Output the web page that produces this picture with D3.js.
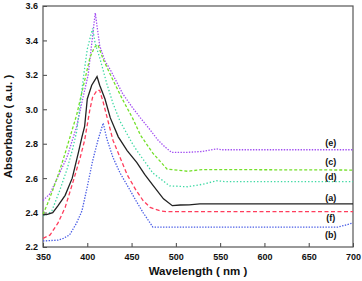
<!DOCTYPE html>
<html>
<head>
<meta charset="utf-8">
<script src="https://cdn.jsdelivr.net/npm/d3@7"></script>
<style>
	body { margin: 0; background: #fff; }
	svg text { font-family: 'Liberation Sans', Arial, sans-serif; font-weight: bold; fill: #111; }
</style>
</head>
<body>
<div id="chart"></div>
<script>
// Data ==============================================================
// [wavelength (nm), absorbance]
const curveA = [[350, 2.386], [355, 2.39], [361, 2.40], [367, 2.44], [375, 2.50], [383, 2.60], [390, 2.75], [394, 2.84], [397, 2.90], [400, 3.06], [405, 3.14], [411, 3.19], [414, 3.14], [420, 3.06], [426, 2.95], [435, 2.84], [445, 2.76], [456, 2.69], [465, 2.62], [474, 2.56], [486, 2.48], [496, 2.44], [505, 2.444], [515, 2.445], [527, 2.45], [700, 2.45]];
const curveB = [[350, 2.235], [367, 2.24], [373, 2.25], [380, 2.27], [388, 2.34], [394, 2.41], [400, 2.55], [406, 2.70], [412, 2.82], [418, 2.92], [422, 2.83], [429, 2.72], [437, 2.63], [446, 2.55], [456, 2.46], [463, 2.40], [474, 2.316], [683, 2.316], [690, 2.325], [700, 2.34]];
const curveC = [[350, 2.39], [355, 2.45], [361, 2.53], [369, 2.647], [375, 2.745], [388, 2.967], [394, 3.10], [403, 3.30], [408, 3.36], [412, 3.375], [418, 3.29], [429, 3.17], [440, 3.055], [451, 2.95], [460, 2.85], [474, 2.745], [490, 2.653], [513, 2.64], [531, 2.65], [700, 2.647]];
const curveD = [[350, 2.38], [355, 2.39], [360, 2.41], [369, 2.53], [377, 2.65], [383, 2.76], [388, 2.87], [392, 3.03], [396, 3.20], [400, 3.35], [406, 3.47], [409, 3.38], [414, 3.30], [422, 3.15], [429, 3.035], [437, 2.93], [451, 2.80], [456, 2.76], [474, 2.63], [493, 2.555], [513, 2.55], [531, 2.565], [546, 2.585], [555, 2.58], [700, 2.58]];
const curveE = [[350, 2.47], [358, 2.51], [367, 2.61], [377, 2.72], [388, 2.90], [395, 3.065], [401, 3.20], [405, 3.38], [409, 3.56], [414, 3.37], [420, 3.28], [426, 3.23], [433, 3.16], [440, 3.09], [451, 3.01], [460, 2.95], [471, 2.88], [480, 2.82], [488, 2.78], [495, 2.75], [513, 2.75], [530, 2.755], [546, 2.77], [552, 2.765], [700, 2.765]];
const curveF = [[350, 2.25], [358, 2.27], [367, 2.34], [375, 2.43], [384, 2.58], [392, 2.72], [397, 2.82], [403, 3.0], [406, 3.07], [411, 3.11], [414, 3.11], [418, 3.04], [423, 2.94], [429, 2.82], [437, 2.72], [445, 2.62], [455, 2.53], [463, 2.47], [471, 2.43], [482, 2.41], [490, 2.405], [700, 2.405]];

const xTicks = [350, 400, 450, 500, 550, 600, 650, 700];
const yTicks = [2.2, 2.4, 2.6, 2.8, 3.0, 3.2, 3.4, 3.6];

// label text and its absorbance position (placed at 675 nm)
const labelNames = ['(e)', '(c)', '(d)', '(a)', '(f)', '(b)'];
const labelValues = [2.804, 2.694, 2.606, 2.484, 2.368, 2.269];
const labelWavelength = 675;
// ===================================================================

const width = 362;
const height = 281;
const margin = { top: 6, right: 9, bottom: 34, left: 43 };
const chartWidth = width - margin.left - margin.right;
const chartHeight = height - margin.top - margin.bottom;

const series = [
	{ data: curveE, color: '#a24ef2', dash: '1.4,1.4' },
	{ data: curveC, color: '#74e02a', dash: '3,2' },
	{ data: curveD, color: '#3ed9a4', dash: '1.4,2' },
	{ data: curveA, color: '#222222', dash: null },
	{ data: curveF, color: '#ff3d5c', dash: '4,2.5' },
	{ data: curveB, color: '#4b5ee6', dash: '1.4,1.4' },
];

const svg = d3.select('#chart').append('svg').attr('width', width).attr('height', height);
const chart = svg.append('g').attr('transform', `translate(${margin.left}, ${margin.top})`);

const xScale = d3.scaleLinear().domain([350, 700]).range([0, chartWidth]);
const yScale = d3.scaleLinear().domain([2.2, 3.6]).range([chartHeight, 0]);

// Axes (inward ticks)
const xAxis = d3.axisBottom(xScale).tickValues(xTicks).tickSizeInner(-4).tickSizeOuter(0).tickPadding(7);
const yAxis = d3.axisLeft(yScale).tickValues(yTicks).tickSizeInner(-4).tickSizeOuter(0).tickPadding(5).tickFormat(d3.format('.1f'));

const gx = chart.append('g').attr('transform', `translate(0, ${chartHeight})`).call(xAxis);
const gy = chart.append('g').call(yAxis);
[gx, gy].forEach((g) => {
	g.select('.domain').remove();
	g.selectAll('line').attr('stroke', '#444').attr('stroke-width', 1);
	g.selectAll('text').style('font-size', '9px').attr('fill', '#111');
});

// Frame
chart
	.append('rect')
	.attr('x', 0)
	.attr('y', 0)
	.attr('width', chartWidth)
	.attr('height', chartHeight)
	.attr('fill', 'none')
	.attr('stroke', '#555')
	.attr('stroke-width', 1.2);

// Curves
const line = d3
	.line()
	.x((d) => xScale(d[0]))
	.y((d) => yScale(d[1]));

series.forEach((s) => {
	chart
		.append('path')
		.datum(s.data)
		.attr('d', line)
		.attr('fill', 'none')
		.attr('stroke', s.color)
		.attr('stroke-width', 1.3)
		.attr('stroke-dasharray', s.dash);
});

// Curve labels
chart
	.selectAll('.curve-label')
	.data(labelNames)
	.enter()
	.append('text')
	.attr('class', 'curve-label')
	.attr('x', xScale(labelWavelength))
	.attr('y', (d, i) => yScale(labelValues[i]))
	.attr('dy', '0.35em')
	.attr('text-anchor', 'middle')
	.style('font-size', '9px')
	.text((d) => d);

// Axis titles
svg
	.append('text')
	.attr('x', margin.left + chartWidth / 2)
	.attr('y', 275)
	.attr('text-anchor', 'middle')
	.style('font-size', '11.5px')
	.text('Wavelength ( nm )');

svg
	.append('text')
	.attr('transform', `translate(12, ${margin.top + chartHeight / 2}) rotate(-90)`)
	.attr('text-anchor', 'middle')
	.style('font-size', '11.5px')
	.text('Absorbance ( a.u. )');
</script>
</body>
</html>
